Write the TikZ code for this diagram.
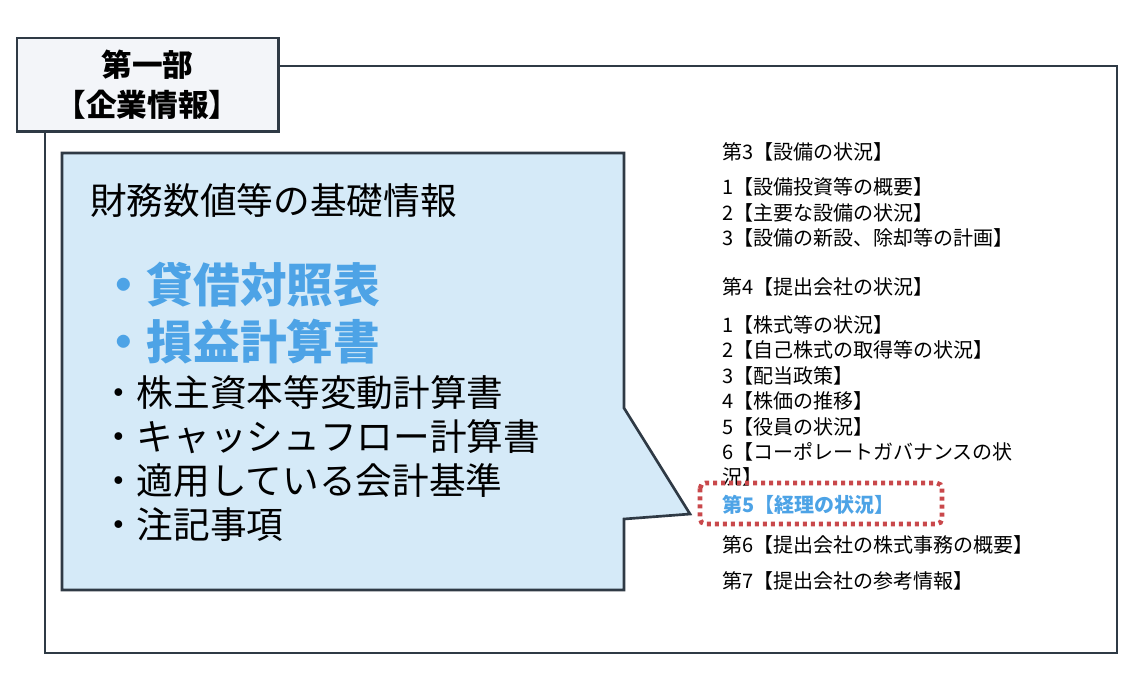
\documentclass[tikz,border=0pt]{standalone}
\usepackage{fontspec}
\setmainfont{Noto Sans CJK JP}
\usepackage{tikz}
\definecolor{frame}{HTML}{2F3A45}
\definecolor{callfill}{HTML}{D5EAF8}
\definecolor{titlefill}{HTML}{F3F5F9}
\definecolor{keyblue}{HTML}{4DA3E6}
\definecolor{dotred}{HTML}{C9484B}
\tikzset{
  item/.style={anchor=west, inner sep=0pt, font=\fontsize{15}{17}\selectfont},
  bigitem/.style={anchor=west, inner sep=0pt, font=\fontsize{27.5}{30}\selectfont},
  keyitem/.style={anchor=west, inner sep=0pt, text=keyblue, font=\fontsize{35}{38}\bfseries\selectfont}
}
\begin{document}
\begin{tikzpicture}[x=0.75pt,y=-0.75pt]
\useasboundingbox (0,0) rectangle (1134,676);

% outer frame and title
\draw[frame, line width=2pt] (45,66) rectangle (1117,653);
\node (title) [draw=frame, line width=2pt, fill=titlefill, minimum width=196pt,
  minimum height=70pt, align=center, font=\fontsize{23}{30}\bfseries\selectfont]
  at (147.5,84.5) {第一部\\【企業情報】};

% callout
\draw[frame, line width=2pt, fill=callfill]
  (62,153) -- (624,153) -- (624,408) -- (690,514) -- (624,519) -- (624,590)
  -- (62,590) -- cycle;
\node (head) [bigitem] at (90,201) {財務数値等の基礎情報};
\node (bs) [keyitem] at (100,285) {・貸借対照表};
\node (pl) [keyitem] at (100,342) {・損益計算書};
\node (ss) [bigitem] at (100,393) {・株主資本等変動計算書};
\node (cf) [bigitem] at (100,437) {・キャッシュフロー計算書};
\node (ap) [bigitem] at (100,481) {・適用している会計基準};
\node (nt) [bigitem] at (100,525) {・注記事項};

% right list
\node (s3) [item] at (722,152) {第3【設備の状況】};
\node (s31) [item] at (722,187) {1【設備投資等の概要】};
\node (s32) [item] at (722,213) {2【主要な設備の状況】};
\node (s33) [item] at (722,238) {3【設備の新設、除却等の計画】};
\node (s4) [item] at (722,287) {第4【提出会社の状況】};
\node (s41) [item] at (722,325) {1【株式等の状況】};
\node (s42) [item] at (722,350) {2【自己株式の取得等の状況】};
\node (s43) [item] at (722,376) {3【配当政策】};
\node (s44) [item] at (722,401) {4【株価の推移】};
\node (s45) [item] at (722,427) {5【役員の状況】};
\node (s46) [item] at (722,452) {6【コーポレートガバナンスの状};
\node (s46b) [item] at (722,477) {況】};
\node (s5) [item, text=keyblue, font=\fontsize{15}{17}\bfseries\selectfont] at (722,505) {第5【経理の状況】};
\node (s6) [item] at (722,545) {第6【提出会社の株式事務の概要】};
\node (s7) [item] at (722,581) {第7【提出会社の参考情報】};
\draw[dotred, line width=3.5pt, dash pattern=on 3pt off 3pt, rounded corners=4pt]
  (700,483) rectangle (942,524);
\end{tikzpicture}
\end{document}
